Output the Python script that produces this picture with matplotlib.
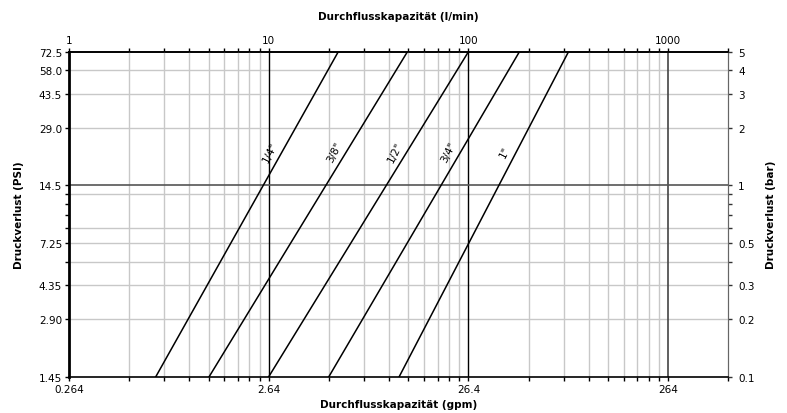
import matplotlib
matplotlib.use('Agg')
import numpy as np
import matplotlib.pyplot as plt
from matplotlib.ticker import FixedLocator, NullFormatter, LogLocator

# Nennweiten und Durchfluss (l/min) bei 0.1 bar und 5 bar
sizes = ['1/4"', '3/8"', '1/2"', '3/4"', '1"']
flow_low = [2.72, 5.03, 10.0, 20.0, 45.0]
flow_high = [22.3, 49.5, 100.0, 180.0, 317.0]
p_low = 0.1
p_high = 5.0

# Achsenbeschriftungen
lpm_ticks = [1, 10, 100, 1000]
lpm_labels = ['1', '10', '100', '1000']
gpm_labels = ['0.264', '2.64', '26.4', '264']
bar_ticks = [0.1, 0.2, 0.3, 0.5, 1, 2, 3, 4, 5]
bar_labels = ['0.1', '0.2', '0.3', '0.5', '1', '2', '3', '4', '5']
psi_labels = ['1.45', '2.90', '4.35', '7.25', '14.5', '29.0', '43.5', '58.0', '72.5']
bar_minor = [0.4, 0.6, 0.7, 0.8, 0.9]
bar_grid = [0.2, 0.3, 0.4, 0.5, 0.6, 0.9, 2, 3, 4]

plt.rcParams['font.family'] = ['DejaVu Sans']
fig = plt.figure(figsize=(7.87, 4.14), dpi=100)
ax = fig.add_axes([0.0877, 0.0877, 0.9254 - 0.0877, 0.8727 - 0.0877])
ax.set_xscale('log')
ax.set_yscale('log')
ax.set_xlim(1, 2000)
ax.set_ylim(p_low, p_high)

grey = '#c8c8c8'
# vertikale Gitterlinien
for dec in [1, 10, 100, 1000]:
    for s in range(2, 10):
        if dec * s < 2000:
            ax.axvline(dec * s, color=grey, lw=1, zorder=0.5)
ax.axvline(10, color='black', lw=1, zorder=1)
ax.axvline(100, color='black', lw=1, zorder=1)
ax.axvline(1000, color='#444444', lw=1.2, zorder=1)
# horizontale Gitterlinien
for b in bar_grid:
    ax.axhline(b, color=grey, lw=1, zorder=0.5)
ax.axhline(1, color='#555555', lw=1.2, zorder=1)

# Druckverlustkurven
for name, lo, hi in zip(sizes, flow_low, flow_high):
    ax.plot([lo, hi], [p_low, p_high], color='black', lw=1.1, zorder=3)
    py = 1.5
    t = (np.log(py) - np.log(p_low)) / (np.log(p_high) - np.log(p_low))
    px = np.exp(np.log(lo) + t * (np.log(hi) - np.log(lo)))
    ax.annotate(name, (px, py), xytext=(-12, 0), textcoords='offset pixels',
                rotation=63, ha='center', va='center', fontsize=7.5)

fs = 7.5
# unten: gpm
ax.xaxis.set_major_locator(FixedLocator(lpm_ticks))
ax.set_xticklabels(gpm_labels, fontsize=fs)
ax.xaxis.set_minor_locator(LogLocator(base=10, subs=np.arange(2, 10)))
ax.xaxis.set_minor_formatter(NullFormatter())
ax.set_xlabel('Durchflusskapazität (gpm)', fontsize=fs, fontweight='bold', labelpad=4)
# links: PSI
ax.yaxis.set_major_locator(FixedLocator(bar_ticks))
ax.set_yticklabels(psi_labels, fontsize=fs)
ax.yaxis.set_minor_locator(FixedLocator(bar_minor))
ax.yaxis.set_minor_formatter(NullFormatter())
ax.set_ylabel('Druckverlust (PSI)', fontsize=fs, fontweight='bold', labelpad=11)
ax.tick_params(which='both', direction='out', length=3, width=1, pad=2)

# oben: l/min
top = ax.secondary_xaxis('top')
top.set_xticks(lpm_ticks)
top.set_xticklabels(lpm_labels, fontsize=fs)
top.xaxis.set_minor_locator(LogLocator(base=10, subs=np.arange(2, 10)))
top.xaxis.set_minor_formatter(NullFormatter())
top.tick_params(which='both', direction='out', length=3, width=1, pad=2)
top.set_xlabel('Durchflusskapazität (l/min)', fontsize=fs, fontweight='bold', labelpad=11)

# rechts: bar
right = ax.secondary_yaxis('right')
right.set_yticks(bar_ticks)
right.set_yticklabels(bar_labels, fontsize=fs)
right.yaxis.set_minor_locator(FixedLocator(bar_minor))
right.yaxis.set_minor_formatter(NullFormatter())
right.tick_params(which='both', direction='out', length=3, width=1, pad=4, colors='#333333', labelcolor='black')
right.set_ylabel('Druckverlust (bar)', fontsize=fs, fontweight='bold', labelpad=8)
right.yaxis.label.set_rotation(90)

ax.spines['left'].set_linewidth(2)
ax.spines['bottom'].set_linewidth(1.2)
ax.spines['top'].set_linewidth(1.2)
ax.spines['right'].set_color('#666666')
top.spines['top'].set_linewidth(1.2)
right.spines['right'].set_color('#666666')

fig.savefig('out.png', dpi=100)
